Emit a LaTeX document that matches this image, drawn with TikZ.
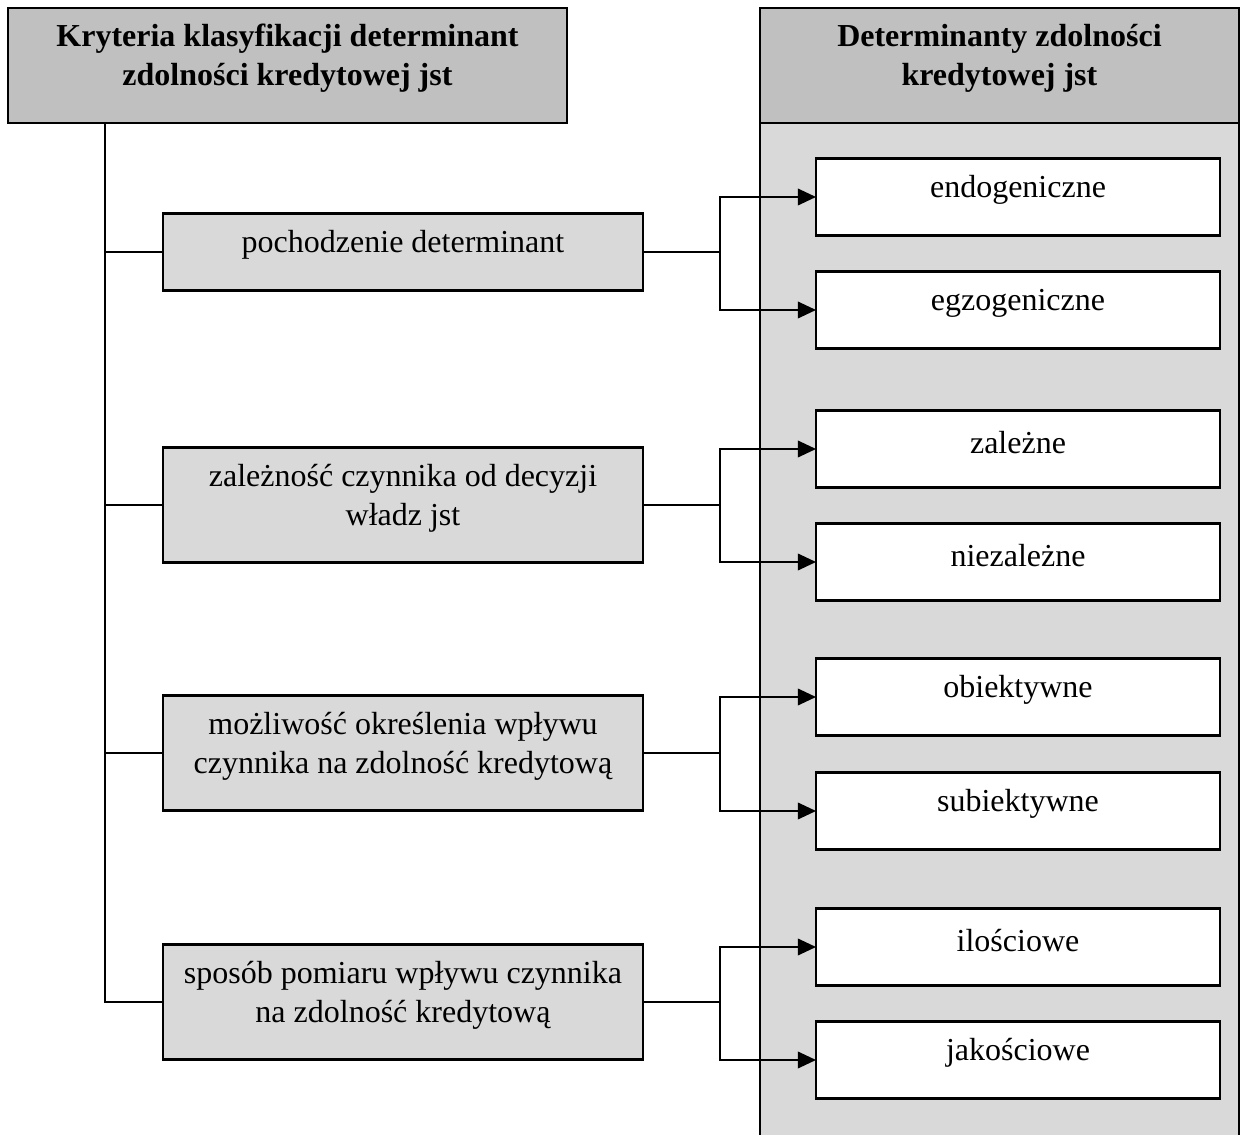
\documentclass[tikz,border=0pt]{standalone}
\usepackage{fontspec}
\setmainfont{Liberation Serif}
\usetikzlibrary{arrows.meta}
\definecolor{headgray}{HTML}{C0C0C0}
\definecolor{lightgray}{HTML}{D9D9D9}
\begin{document}
\begin{tikzpicture}[x=0.375pt, y=-0.375pt,
  every node/.style={inner sep=0pt, outer sep=0pt},
  txt/.style={font=\fontsize{12}{14.7}\selectfont, align=center, yshift=2.6pt},
  headtxt/.style={font=\fontsize{12}{14.7}\selectfont\bfseries, align=center, yshift=2.6pt},
  headbox/.style={draw, line width=0.9pt, fill=headgray, minimum height=43.1pt},
  critbox/.style={draw, line width=0.8pt, fill=lightgray, minimum width=180pt},
  detbox/.style={draw, line width=0.9pt, fill=white, minimum width=151.5pt, minimum height=28.9pt},
  link/.style={line width=0.75pt},
  arr/.style={line width=0.75pt, -{Triangle[length=6.8pt, width=6.2pt]}}
]
\useasboundingbox (0,0) rectangle (1245,1135);
\clip (0,0) rectangle (1245,1135);

% right column: determinants
\node[draw, line width=0.9pt, fill=lightgray, minimum width=179.6pt, minimum height=384pt, anchor=north west] (colbody) at (760,123) {};
\node[headbox, minimum width=179.6pt, anchor=north west,
  label={[headtxt]center:Determinanty zdolności\\kredytowej jst}] (colhead) at (760,8) {};

% left header: criteria
\node[headbox, minimum width=209.6pt, anchor=north west,
  label={[headtxt]center:Kryteria klasyfikacji determinant\\zdolności kredytowej jst}] (lhead) at (8,8) {};

% criteria boxes
\node[critbox, minimum height=28.9pt, label={[txt]center:pochodzenie determinant}] (c1) at (403,252) {};
\node[critbox, minimum height=43.1pt, label={[txt]center:zależność czynnika od decyzji\\władz jst}] (c2) at (403,505) {};
\node[critbox, minimum height=43.1pt, label={[txt]center:możliwość określenia wpływu\\czynnika na zdolność kredytową}] (c3) at (403,753) {};
\node[critbox, minimum height=43.1pt, label={[txt]center:sposób pomiaru wpływu czynnika\\na zdolność kredytową}] (c4) at (403,1002) {};

% determinant boxes
\node[detbox, label={[txt]center:endogeniczne}] (r1) at (1018,197) {};
\node[detbox, label={[txt]center:egzogeniczne}] (r2) at (1018,310) {};
\node[detbox, label={[txt]center:zależne}] (r3) at (1018,449) {};
\node[detbox, label={[txt]center:niezależne}] (r4) at (1018,562) {};
\node[detbox, label={[txt]center:obiektywne}] (r5) at (1018,697) {};
\node[detbox, label={[txt]center:subiektywne}] (r6) at (1018,811) {};
\node[detbox, label={[txt]center:ilościowe}] (r7) at (1018,947) {};
\node[detbox, label={[txt]center:jakościowe}] (r8) at (1018,1060) {};

% trunk from the criteria header
\coordinate (t0) at (105,123);
\draw[link] (t0) |- (c4.west);
\draw[link] (t0 |- c1.west) -- (c1.west);
\draw[link] (t0 |- c2.west) -- (c2.west);
\draw[link] (t0 |- c3.west) -- (c3.west);

% forks towards the determinants
\foreach \c/\a/\b in {c1/r1/r2, c2/r3/r4, c3/r5/r6, c4/r7/r8}{
  \draw[link] (\c.east) -- ++(77,0) coordinate (fork-\c);
  \draw[arr] (fork-\c) |- (\a.west);
  \draw[arr] (fork-\c) |- (\b.west);
}
\end{tikzpicture}
\end{document}
